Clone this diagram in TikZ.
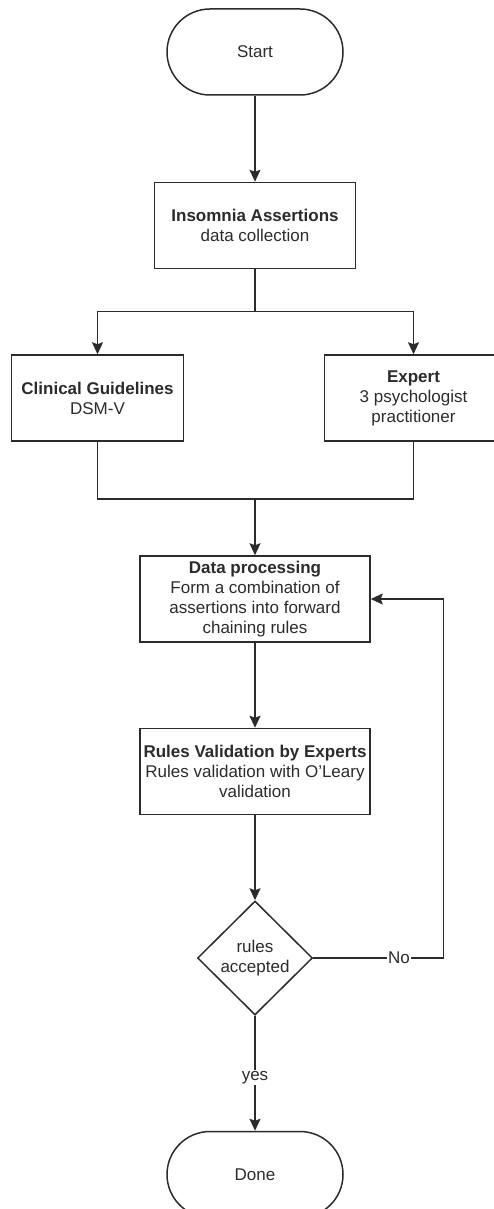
\documentclass[tikz,border=0pt]{standalone}
\usepackage{fontspec}
\setmainfont{Liberation Sans}
\usetikzlibrary{positioning, arrows.meta, shapes.geometric}

\definecolor{inkgray}{HTML}{2B2B2B}

\begin{document}
\begin{tikzpicture}[
    x=1pt, y=-1pt,
    node distance=86pt,
    every node/.style={font=\fontsize{17}{20}\selectfont, text=inkgray},
    terminal/.style={rectangle, draw=inkgray, line width=1.5pt, rounded corners=43pt, minimum width=176pt, minimum height=86pt},
    box/.style={rectangle, draw=inkgray, line width=1.5pt, align=center, inner sep=2pt, minimum height=86pt},
    decision/.style={diamond, draw=inkgray, line width=1.5pt, align=center, aspect=1, inner sep=0pt, minimum width=115pt, minimum height=114pt},
    link/.style={draw=inkgray, line width=1.5pt, -{Stealth[length=12pt, width=11pt, inset=2pt]}},
    plain/.style={draw=inkgray, line width=1.5pt},
    tag/.style={fill=white, inner sep=1pt}
]
\useasboundingbox (0,0) rectangle (494,1209);

% Nodes
\node[terminal] (start) at (255,52) {Start};
\node[box, minimum width=201pt, below=86pt of start] (collect) {\textbf{Insomnia Assertions}\\data collection};
\node[box, minimum width=172pt, below=85pt of collect, xshift=-157.5pt] (clinical) {\textbf{Clinical Guidelines}\\DSM-V};
\node[box, minimum width=178pt, below=85pt of collect, xshift=158.5pt] (expert) {\textbf{Expert}\\3 psychologist\\practitioner};
\node[box, minimum width=230pt, below=286pt of collect] (process) {\textbf{Data processing}\\Form a combination of\\assertions into forward\\chaining rules};
\node[box, minimum width=230pt, below=85pt of process] (valid) {\textbf{Rules Validation by Experts}\\Rules validation with O'Leary\\validation};
\node[decision, below=85pt of valid] (check) {rules\\accepted};
\node[terminal, below=115pt of check] (done) {Done};

% Edges
\draw[link] (start) -- (collect);
\draw[link] (collect.south) -- ++(0,42) -| (clinical.north);
\draw[link] (collect.south) -- ++(0,42) -| (expert.north);
\draw[plain] (clinical.south) -- ++(0,57) -| (expert.south);
\draw[link] (clinical.south) ++(0,57) -| (process.north);
\draw[link] (process) -- (valid);
\draw[link] (valid) -- (check);
\draw[link] (check.east) -- node[tag, pos=0.66] {No} ++(130,0) |- (process.east);
\draw[link] (check) -- node[tag, yshift=-4pt] {yes} (done);

\end{tikzpicture}
\end{document}
